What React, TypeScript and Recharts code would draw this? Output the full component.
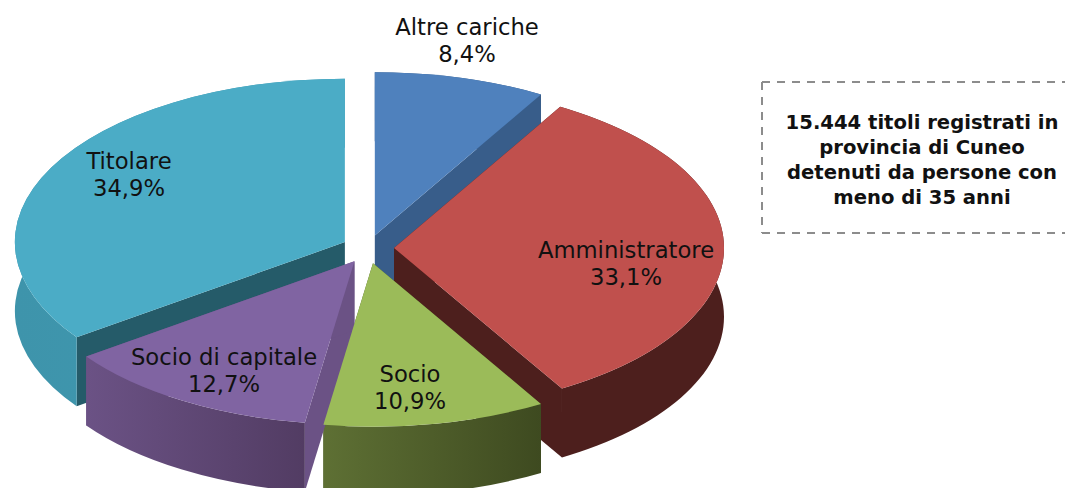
import { Pie, PieChart } from 'recharts';

const categories = ['Titolare', 'Altre cariche', 'Amministratore', 'Socio', 'Socio di capitale'];
const shares = [34.9, 8.4, 33.1, 10.9, 12.7];
const noteLines = ['15.444 titoli registrati in', 'provincia di Cuneo', 'detenuti da persone con', 'meno di 35 anni'];

const data = categories.map((name, i) => ({ name, value: shares[i] }));

// clockwise from the top the pie starts with Altre cariche, so Titolare (drawn first) starts at the end of the others
const START_ANGLE = 90 - (100 - shares[0]) * 3.6;

const SQUASH = 0.495;
const FRONT_SQUASH = 0.6; // front slices sit a bit lower, the original has some perspective
const DEPTH = 69;
const EXPLODE = 26;

const looks: Record<string, { top: string; cut: string; wall: [string, string] }> = {
  'Altre cariche': { top: '#4f81bd', cut: '#385d8a', wall: ['#385d8a', '#385d8a'] },
  Amministratore: { top: '#c0504d', cut: '#4d1f1d', wall: ['#4d1f1d', '#4d1f1d'] },
  Socio: { top: '#9bbb59', cut: '#4a5a28', wall: ['#5e7034', '#3e4a20'] },
  'Socio di capitale': { top: '#8064a2', cut: '#6b5285', wall: ['#6b5285', '#523c63'] },
  Titolare: { top: '#4bacc6', cut: '#255b69', wall: ['#3e94ab', '#3f9ab2'] },
};

// centre of each two line label
const labelSpots: Record<string, [number, number]> = {
  'Altre cariche': [467, 41],
  Amministratore: [626, 264],
  Socio: [410, 388],
  'Socio di capitale': [224, 371],
  Titolare: [129, 175],
};

const RAD = Math.PI / 180;

function geometry(p: any) {
  const mid = (p.startAngle + p.endAngle) / 2;
  const lift = Math.sin(mid * RAD);
  const cx = p.cx + EXPLODE * Math.cos(mid * RAD);
  const cy = p.cy - EXPLODE * lift * (lift < 0 ? FRONT_SQUASH : SQUASH);
  const rx = p.outerRadius;
  const ry = p.outerRadius * SQUASH;
  const at = (a: number, drop = 0) => ({
    x: cx + rx * Math.cos(a * RAD),
    y: cy - ry * Math.sin(a * RAD) + drop,
  });
  const large = Math.abs(p.startAngle - p.endAngle) > 180 ? 1 : 0;
  return { cx, cy, rx, ry, at, large };
}

function WallShape(p: any) {
  const { cx, cy, rx, ry, at, large } = geometry(p);
  const look = looks[p.name];
  const a = at(p.startAngle);
  const b = at(p.endAngle);
  const a2 = at(p.startAngle, DEPTH);
  const b2 = at(p.endAngle, DEPTH);
  const id = `wall-${p.index}`;
  const outer = `M${a.x},${a.y} A${rx},${ry} 0 ${large} 1 ${b.x},${b.y} L${b2.x},${b2.y} A${rx},${ry} 0 ${large} 0 ${a2.x},${a2.y} Z`;
  const cutA = `M${cx},${cy} L${a.x},${a.y} L${a2.x},${a2.y} L${cx},${cy + DEPTH} Z`;
  const cutB = `M${cx},${cy} L${b.x},${b.y} L${b2.x},${b2.y} L${cx},${cy + DEPTH} Z`;
  return (
    <g>
      <defs>
        <linearGradient id={id} x1="0" y1="0" x2="1" y2="0">
          <stop offset="0%" stopColor={look.wall[0]} />
          <stop offset="100%" stopColor={look.wall[1]} />
        </linearGradient>
      </defs>
      <path d={cutA} fill={look.cut} />
      <path d={cutB} fill={look.cut} />
      <path d={outer} fill={`url(#${id})`} />
    </g>
  );
}

function TopShape(p: any) {
  const { cx, cy, rx, ry, at, large } = geometry(p);
  const a = at(p.startAngle);
  const b = at(p.endAngle);
  return (
    <path
      d={`M${cx},${cy} L${a.x},${a.y} A${rx},${ry} 0 ${large} 1 ${b.x},${b.y} Z`}
      fill={looks[p.name].top}
    />
  );
}

function SliceLabel(p: any) {
  const [x, y] = labelSpots[p.name];
  return (
    <text x={x} y={y} textAnchor="middle" fontFamily="DejaVu Sans" fontSize={22.7} fill="#111">
      <tspan x={x} dy={-6}>{p.name}</tspan>
      <tspan x={x} dy={27}>{p.value.toFixed(1).replace('.', ',')}%</tspan>
    </text>
  );
}

export default function App() {
  return (
    <div style={{ position: 'absolute', left: 0, top: 0, width: 1069, height: 488, background: '#fff' }}>
      <PieChart width={1069} height={488} margin={{ top: 0, right: 0, bottom: 0, left: 0 }}>
        <Pie
          data={data}
          dataKey="value"
          nameKey="name"
          cx={368}
          cy={248}
          outerRadius={330}
          startAngle={START_ANGLE}
          endAngle={START_ANGLE - 360}
          stroke="none"
          shape={WallShape}
          isAnimationActive={false}
        />
        <Pie
          data={data}
          dataKey="value"
          nameKey="name"
          cx={368}
          cy={248}
          outerRadius={330}
          startAngle={START_ANGLE}
          endAngle={START_ANGLE - 360}
          stroke="none"
          shape={TopShape}
          label={SliceLabel}
          labelLine={false}
          isAnimationActive={false}
        />
      </PieChart>
      <svg style={{ position: 'absolute', left: 0, top: 0 }} width={1069} height={488}>
        <path
          d="M762,82 H1065 M762,82 V233 M762,233 H1065"
          fill="none"
          stroke="#8c8c8c"
          strokeWidth={2}
          strokeDasharray="8 7"
        />
      </svg>
      <div
        style={{
          position: 'absolute',
          left: 770,
          top: 84,
          width: 304,
          height: 151,
          display: 'flex',
          flexDirection: 'column',
          justifyContent: 'center',
          alignItems: 'center',
          fontFamily: 'DejaVu Sans',
          fontWeight: 'bold',
          fontSize: 19.6,
          lineHeight: '25px',
          whiteSpace: 'nowrap',
          color: '#111',
        }}
      >
        {noteLines.map((line) => (
          <div key={line}>{line}</div>
        ))}
      </div>
    </div>
  );
}
